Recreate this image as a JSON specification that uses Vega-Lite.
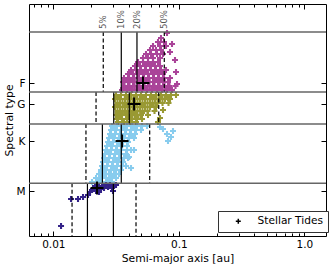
{
"$schema": "https://vega.github.io/schema/vega-lite/v6.json",
"width": 297, "height": 232,
"autosize": {"type": "none"},
"padding": {"left": 29, "top": 4, "right": 7, "bottom": 32},
"config": {
 "view": {"stroke": "black", "strokeWidth": 1},
 "font": "DejaVu Sans",
 "axis": {"labelFont": "DejaVu Sans", "titleFont": "DejaVu Sans", "labelColor": "black", "titleColor": "black", "titleFontWeight": "normal", "tickColor": "black", "domain": false, "grid": false, "labelFontSize": 10.5, "titleFontSize": 10.8}
},
"datasets": {
 "pts": [
  {"t":"F","a":0.03527,"T":6050},{"t":"F","a":0.03865,"T":6050},{"t":"F","a":0.04237,"T":6050},{"t":"F","a":0.04644,"T":6050},{"t":"F","a":0.05090,"T":6050},{"t":"F","a":0.05579,"T":6050},{"t":"F","a":0.06115,"T":6050},{"t":"F","a":0.06702,"T":6050},{"t":"F","a":0.07346,"T":6050},{"t":"F","a":0.08051,"T":6050},{"t":"F","a":0.08825,"T":6050},
  {"t":"F","a":0.03692,"T":6150},{"t":"F","a":0.04046,"T":6150},{"t":"F","a":0.04436,"T":6150},{"t":"F","a":0.04862,"T":6150},{"t":"F","a":0.05329,"T":6150},{"t":"F","a":0.05841,"T":6150},{"t":"F","a":0.06402,"T":6150},{"t":"F","a":0.07016,"T":6150},{"t":"F","a":0.07690,"T":6150},{"t":"F","a":0.08429,"T":6150},{"t":"F","a":0.09410,"T":6150},
  {"t":"F","a":0.03592,"T":6250},{"t":"F","a":0.03937,"T":6250},{"t":"F","a":0.04315,"T":6250},{"t":"F","a":0.04730,"T":6250},{"t":"F","a":0.05184,"T":6250},{"t":"F","a":0.05682,"T":6250},{"t":"F","a":0.06228,"T":6250},{"t":"F","a":0.06826,"T":6250},{"t":"F","a":0.07482,"T":6250},{"t":"F","a":0.08200,"T":6250},
  {"t":"F","a":0.03658,"T":6350},{"t":"F","a":0.04010,"T":6350},{"t":"F","a":0.04395,"T":6350},{"t":"F","a":0.04817,"T":6350},{"t":"F","a":0.05280,"T":6350},{"t":"F","a":0.05787,"T":6350},{"t":"F","a":0.06343,"T":6350},{"t":"F","a":0.06952,"T":6350},{"t":"F","a":0.07620,"T":6350},{"t":"F","a":0.08507,"T":6350},
  {"t":"F","a":0.03937,"T":6450},{"t":"F","a":0.04315,"T":6450},{"t":"F","a":0.04730,"T":6450},{"t":"F","a":0.05184,"T":6450},{"t":"F","a":0.05682,"T":6450},{"t":"F","a":0.06228,"T":6450},{"t":"F","a":0.06826,"T":6450},{"t":"F","a":0.07482,"T":6450},
  {"t":"F","a":0.04160,"T":6550},{"t":"F","a":0.04559,"T":6550},{"t":"F","a":0.04997,"T":6550},{"t":"F","a":0.05477,"T":6550},{"t":"F","a":0.06003,"T":6550},{"t":"F","a":0.06580,"T":6550},{"t":"F","a":0.07212,"T":6550},{"t":"F","a":0.07905,"T":6550},
  {"t":"F","a":0.04476,"T":6650},{"t":"F","a":0.04906,"T":6650},{"t":"F","a":0.05378,"T":6650},{"t":"F","a":0.05894,"T":6650},{"t":"F","a":0.06461,"T":6650},{"t":"F","a":0.07081,"T":6650},
  {"t":"F","a":0.04730,"T":6750},{"t":"F","a":0.05184,"T":6750},{"t":"F","a":0.05682,"T":6750},{"t":"F","a":0.06228,"T":6750},{"t":"F","a":0.06826,"T":6750},
  {"t":"F","a":0.05184,"T":6850},{"t":"F","a":0.05682,"T":6850},{"t":"F","a":0.06228,"T":6850},{"t":"F","a":0.07081,"T":6850},
  {"t":"F","a":0.05477,"T":6950},{"t":"F","a":0.06003,"T":6950},{"t":"F","a":0.06702,"T":6950},{"t":"F","a":0.07482,"T":6950},
  {"t":"F","a":0.05894,"T":7050},{"t":"F","a":0.06580,"T":7050},{"t":"F","a":0.07212,"T":7050},
  {"t":"F","a":0.06228,"T":7150},{"t":"F","a":0.07081,"T":7150},{"t":"F","a":0.07905,"T":7150},
  {"t":"F","a":0.06826,"T":7250},{"t":"F","a":0.07620,"T":7250},
  {"t":"F","a":0.07212,"T":7350},{"t":"F","a":0.08051,"T":7475},
  {"t":"F","a":0.08825,"T":7200},{"t":"F","a":0.09324,"T":6800},{"t":"F","a":0.09497,"T":6500},{"t":"F","a":0.09673,"T":6200},{"t":"F","a":0.08507,"T":7000},
  {"t":"F","a":0.03600,"T":6100},{"t":"F","a":0.04150,"T":6100},{"t":"F","a":0.04750,"T":6100},{"t":"F","a":0.05450,"T":6100},{"t":"F","a":0.06250,"T":6100},{"t":"F","a":0.07150,"T":6100},{"t":"F","a":0.08200,"T":6100},
  {"t":"F","a":0.03750,"T":6300},{"t":"F","a":0.04300,"T":6300},{"t":"F","a":0.04950,"T":6300},{"t":"F","a":0.05650,"T":6300},{"t":"F","a":0.06500,"T":6300},{"t":"F","a":0.07450,"T":6300},
  {"t":"F","a":0.04150,"T":6500},{"t":"F","a":0.04800,"T":6500},{"t":"F","a":0.05500,"T":6500},{"t":"F","a":0.06300,"T":6500},{"t":"F","a":0.07200,"T":6500},
  {"t":"F","a":0.04700,"T":6700},{"t":"F","a":0.05400,"T":6700},{"t":"F","a":0.06100,"T":6700},
  {"t":"G","a":0.03159,"T":5925},{"t":"G","a":0.03462,"T":5925},{"t":"G","a":0.03795,"T":5925},{"t":"G","a":0.04160,"T":5925},{"t":"G","a":0.04559,"T":5925},{"t":"G","a":0.04997,"T":5925},{"t":"G","a":0.05477,"T":5925},{"t":"G","a":0.06003,"T":5925},{"t":"G","a":0.06580,"T":5925},{"t":"G","a":0.07212,"T":5925},{"t":"G","a":0.07905,"T":5925},{"t":"G","a":0.08664,"T":5925},{"t":"G","a":0.09497,"T":5925},
  {"t":"G","a":0.03102,"T":5825},{"t":"G","a":0.03400,"T":5825},{"t":"G","a":0.03726,"T":5825},{"t":"G","a":0.04084,"T":5825},{"t":"G","a":0.04476,"T":5825},{"t":"G","a":0.04906,"T":5825},{"t":"G","a":0.05378,"T":5825},{"t":"G","a":0.05894,"T":5825},{"t":"G","a":0.06461,"T":5825},{"t":"G","a":0.07081,"T":5825},{"t":"G","a":0.07761,"T":5825},{"t":"G","a":0.08507,"T":5825},
  {"t":"G","a":0.03247,"T":5725},{"t":"G","a":0.03559,"T":5725},{"t":"G","a":0.03901,"T":5725},{"t":"G","a":0.04276,"T":5725},{"t":"G","a":0.04686,"T":5725},{"t":"G","a":0.05136,"T":5725},{"t":"G","a":0.05630,"T":5725},{"t":"G","a":0.06171,"T":5725},{"t":"G","a":0.06764,"T":5725},{"t":"G","a":0.07413,"T":5725},{"t":"G","a":0.08276,"T":5725},
  {"t":"G","a":0.03102,"T":5625},{"t":"G","a":0.03400,"T":5625},{"t":"G","a":0.03726,"T":5625},{"t":"G","a":0.04084,"T":5625},{"t":"G","a":0.04476,"T":5625},{"t":"G","a":0.04906,"T":5625},{"t":"G","a":0.05378,"T":5625},{"t":"G","a":0.05894,"T":5625},{"t":"G","a":0.06580,"T":5625},
  {"t":"G","a":0.03247,"T":5525},{"t":"G","a":0.03559,"T":5525},{"t":"G","a":0.03901,"T":5525},{"t":"G","a":0.04276,"T":5525},{"t":"G","a":0.04686,"T":5525},{"t":"G","a":0.05136,"T":5525},{"t":"G","a":0.05630,"T":5525},{"t":"G","a":0.06402,"T":5525},
  {"t":"G","a":0.03159,"T":5425},{"t":"G","a":0.03462,"T":5425},{"t":"G","a":0.03795,"T":5425},{"t":"G","a":0.04160,"T":5425},{"t":"G","a":0.04559,"T":5425},{"t":"G","a":0.04997,"T":5425},{"t":"G","a":0.05682,"T":5425},
  {"t":"G","a":0.03218,"T":5325},{"t":"G","a":0.03527,"T":5325},{"t":"G","a":0.03865,"T":5325},{"t":"G","a":0.04237,"T":5325},{"t":"G","a":0.04644,"T":5325},{"t":"G","a":0.05090,"T":5325},
  {"t":"G","a":0.03277,"T":5250},{"t":"G","a":0.03658,"T":5250},{"t":"G","a":0.04084,"T":5250},{"t":"G","a":0.04559,"T":5250},{"t":"G","a":0.06826,"T":5250},
  {"t":"G","a":0.07482,"T":5550},{"t":"G","a":0.07081,"T":5350},{"t":"G","a":0.08200,"T":5850},
  {"t":"G","a":0.03300,"T":5875},{"t":"G","a":0.03850,"T":5875},{"t":"G","a":0.04500,"T":5875},{"t":"G","a":0.05250,"T":5875},{"t":"G","a":0.06150,"T":5875},{"t":"G","a":0.07150,"T":5875},
  {"t":"G","a":0.03250,"T":5675},{"t":"G","a":0.03800,"T":5675},{"t":"G","a":0.04450,"T":5675},{"t":"G","a":0.05200,"T":5675},{"t":"G","a":0.06100,"T":5675},
  {"t":"G","a":0.03250,"T":5475},{"t":"G","a":0.03800,"T":5475},{"t":"G","a":0.04400,"T":5475},{"t":"G","a":0.05100,"T":5475},
  {"t":"G","a":0.03350,"T":5375},{"t":"G","a":0.03950,"T":5375},{"t":"G","a":0.04600,"T":5375},
  {"t":"K","a":0.02936,"T":5150},{"t":"K","a":0.03218,"T":5150},{"t":"K","a":0.03527,"T":5150},{"t":"K","a":0.03865,"T":5150},{"t":"K","a":0.04237,"T":5150},{"t":"K","a":0.04644,"T":5150},{"t":"K","a":0.05090,"T":5150},{"t":"K","a":0.05579,"T":5150},
  {"t":"K","a":0.02882,"T":5050},{"t":"K","a":0.03159,"T":5050},{"t":"K","a":0.03462,"T":5050},{"t":"K","a":0.03795,"T":5050},{"t":"K","a":0.04160,"T":5050},{"t":"K","a":0.04559,"T":5050},{"t":"K","a":0.04997,"T":5050},
  {"t":"K","a":0.02830,"T":4950},{"t":"K","a":0.03102,"T":4950},{"t":"K","a":0.03400,"T":4950},{"t":"K","a":0.03726,"T":4950},{"t":"K","a":0.04084,"T":4950},{"t":"K","a":0.04476,"T":4950},
  {"t":"K","a":0.02778,"T":4850},{"t":"K","a":0.03045,"T":4850},{"t":"K","a":0.03338,"T":4850},{"t":"K","a":0.03658,"T":4850},{"t":"K","a":0.04010,"T":4850},{"t":"K","a":0.04395,"T":4850},
  {"t":"K","a":0.02728,"T":4750},{"t":"K","a":0.02990,"T":4750},{"t":"K","a":0.03277,"T":4750},{"t":"K","a":0.03592,"T":4750},{"t":"K","a":0.03937,"T":4750},
  {"t":"K","a":0.02678,"T":4650},{"t":"K","a":0.02936,"T":4650},{"t":"K","a":0.03218,"T":4650},{"t":"K","a":0.03527,"T":4650},{"t":"K","a":0.03865,"T":4650},
  {"t":"K","a":0.02630,"T":4550},{"t":"K","a":0.02882,"T":4550},{"t":"K","a":0.03159,"T":4550},{"t":"K","a":0.03462,"T":4550},{"t":"K","a":0.03865,"T":4550},{"t":"K","a":0.04160,"T":4550},
  {"t":"K","a":0.02582,"T":4450},{"t":"K","a":0.02830,"T":4450},{"t":"K","a":0.03102,"T":4450},{"t":"K","a":0.03400,"T":4450},{"t":"K","a":0.03795,"T":4450},
  {"t":"K","a":0.02535,"T":4350},{"t":"K","a":0.02778,"T":4350},{"t":"K","a":0.03045,"T":4350},{"t":"K","a":0.03338,"T":4350},{"t":"K","a":0.03658,"T":4350},{"t":"K","a":0.03937,"T":4350},
  {"t":"K","a":0.02489,"T":4250},{"t":"K","a":0.02728,"T":4250},{"t":"K","a":0.02990,"T":4250},{"t":"K","a":0.03277,"T":4250},{"t":"K","a":0.03592,"T":4250},
  {"t":"K","a":0.02444,"T":4150},{"t":"K","a":0.02678,"T":4150},{"t":"K","a":0.02936,"T":4150},{"t":"K","a":0.03218,"T":4150},{"t":"K","a":0.03527,"T":4150},{"t":"K","a":0.03795,"T":4150},
  {"t":"K","a":0.02399,"T":4050},{"t":"K","a":0.02630,"T":4050},{"t":"K","a":0.02882,"T":4050},{"t":"K","a":0.03159,"T":4050},{"t":"K","a":0.03462,"T":4050},
  {"t":"K","a":0.02313,"T":3950},{"t":"K","a":0.02535,"T":3950},{"t":"K","a":0.02778,"T":3950},{"t":"K","a":0.03045,"T":3950},{"t":"K","a":0.03338,"T":3950},
  {"t":"K","a":0.02189,"T":3850},{"t":"K","a":0.02399,"T":3850},{"t":"K","a":0.02630,"T":3850},{"t":"K","a":0.02882,"T":3850},{"t":"K","a":0.03159,"T":3850},
  {"t":"K","a":0.02034,"T":3750},{"t":"K","a":0.02230,"T":3750},{"t":"K","a":0.02444,"T":3750},{"t":"K","a":0.02678,"T":3750},{"t":"K","a":0.02936,"T":3750},
  {"t":"K","a":0.07482,"T":5075},{"t":"K","a":0.08051,"T":4950},{"t":"K","a":0.08664,"T":4875},{"t":"K","a":0.08200,"T":4775},{"t":"K","a":0.08988,"T":5025},{"t":"K","a":0.07081,"T":5125},{"t":"K","a":0.04160,"T":4100},{"t":"K","a":0.04010,"T":4375},{"t":"K","a":0.04395,"T":4550},
  {"t":"K","a":0.03050,"T":5100},{"t":"K","a":0.03650,"T":5100},{"t":"K","a":0.04400,"T":5100},{"t":"K","a":0.02950,"T":4900},{"t":"K","a":0.03500,"T":4900},{"t":"K","a":0.04200,"T":4900},
  {"t":"K","a":0.02850,"T":4700},{"t":"K","a":0.03400,"T":4700},{"t":"K","a":0.02750,"T":4500},{"t":"K","a":0.03300,"T":4500},{"t":"K","a":0.02650,"T":4300},{"t":"K","a":0.03150,"T":4300},
  {"t":"K","a":0.02550,"T":4100},{"t":"K","a":0.03050,"T":4100},{"t":"K","a":0.02450,"T":3900},{"t":"K","a":0.02900,"T":3900},{"t":"K","a":0.02300,"T":3800},{"t":"K","a":0.02750,"T":3800},
  {"t":"M","a":0.01152,"T":2650},{"t":"M","a":0.01384,"T":3325},{"t":"M","a":0.01573,"T":3325},{"t":"M","a":0.01725,"T":3375},{"t":"M","a":0.01890,"T":3425},{"t":"M","a":0.01961,"T":3500},{"t":"M","a":0.02034,"T":3550},{"t":"M","a":0.02110,"T":3600},{"t":"M","a":0.02189,"T":3525},{"t":"M","a":0.02271,"T":3625},{"t":"M","a":0.02356,"T":3575},{"t":"M","a":0.02444,"T":3650},{"t":"M","a":0.02535,"T":3600},{"t":"M","a":0.02630,"T":3675},{"t":"M","a":0.02728,"T":3625},{"t":"M","a":0.02830,"T":3675},{"t":"M","a":0.02936,"T":3600},{"t":"M","a":0.03045,"T":3650},{"t":"M","a":0.03159,"T":3675},{"t":"M","a":0.02990,"T":3525},{"t":"M","a":0.02149,"T":3650},{"t":"M","a":0.02313,"T":3500},{"t":"M","a":0.02230,"T":3675},{"t":"M","a":0.02071,"T":3575},{"t":"M","a":0.02399,"T":3600},{"t":"M","a":0.02582,"T":3650}
 ],
 "rules": [
  {"r":"F","p":"5%","a":0.0250,"T1":7500,"T2":6000,"s":"dash"},
  {"r":"F","p":"10%","a":0.0348,"T1":7500,"T2":6000,"s":"solid"},
  {"r":"F","p":"20%","a":0.0464,"T1":7500,"T2":6000,"s":"solid"},
  {"r":"F","p":"50%","a":0.0766,"T1":7500,"T2":6000,"s":"dash"},
  {"r":"G","p":"5%","a":0.0219,"T1":6000,"T2":5200,"s":"dash"},
  {"r":"G","p":"10%","a":0.0303,"T1":6000,"T2":5200,"s":"solid"},
  {"r":"G","p":"20%","a":0.0403,"T1":6000,"T2":5200,"s":"solid"},
  {"r":"G","p":"50%","a":0.0692,"T1":6000,"T2":5200,"s":"dash"},
  {"r":"K","p":"5%","a":0.0182,"T1":5200,"T2":3720,"s":"dash"},
  {"r":"K","p":"10%","a":0.0246,"T1":5200,"T2":3720,"s":"solid"},
  {"r":"K","p":"20%","a":0.0348,"T1":5200,"T2":3720,"s":"solid"},
  {"r":"K","p":"50%","a":0.0586,"T1":5200,"T2":3720,"s":"dash"},
  {"r":"M","p":"5%","a":0.0141,"T1":3720,"T2":2400,"s":"dash"},
  {"r":"M","p":"10%","a":0.0187,"T1":3720,"T2":2400,"s":"solid"},
  {"r":"M","p":"20%","a":0.0301,"T1":3720,"T2":2400,"s":"solid"},
  {"r":"M","p":"50%","a":0.0456,"T1":3720,"T2":2400,"s":"dash"}
 ],
 "hl": [{"T":7500},{"T":6000},{"T":5200},{"T":3720}],
 "lab": [{"p":"5%","a":0.0250,"T":7575},{"p":"10%","a":0.0348,"T":7575},{"p":"20%","a":0.0464,"T":7575},{"p":"50%","a":0.0766,"T":7575}],
 "med": [{"series":"Stellar Tides","t":"F","a":0.0518,"T":6225},{"series":"Stellar Tides","t":"G","a":0.0440,"T":5700},{"series":"Stellar Tides","t":"K","a":0.0353,"T":4775},{"series":"Stellar Tides","t":"M","a":0.0223,"T":3600}]
},
"layer": [
 {"data": {"name": "pts"},
  "mark": {"type": "point", "shape": "M-1,0L1,0M0,-1L0,1", "filled": false, "size": 36, "strokeWidth": 2.1, "opacity": 1},
  "encoding": {
   "x": {"field": "a", "type": "quantitative", "scale": {"type": "log", "domain": [0.0064, 1.489], "nice": false},
         "axis": {"orient": "bottom", "values": [0.01, 0.1, 1], "labelExpr": "datum.value >= 1 ? '1.0' : (datum.value >= 0.1 ? '0.1' : '0.01')", "tickSize": -5, "labelPadding": 8, "title": "Semi-major axis [au]", "titlePadding": 3}},
   "y": {"field": "T", "type": "quantitative", "scale": {"domain": [2400, 8200], "nice": false, "zero": false},
         "axis": {"orient": "left", "values": [6225, 5700, 4775, 3525], "labelExpr": "datum.value == 6225 ? 'F' : (datum.value == 5700 ? 'G' : (datum.value == 4775 ? 'K' : 'M'))", "tickSize": -5, "labelPadding": 9, "title": "Spectral type", "titlePadding": 1}},
   "color": {"field": "t", "type": "nominal", "scale": {"domain": ["F", "G", "K", "M"], "range": ["#AA4499", "#999933", "#88CCEE", "#332288"]}, "legend": null}
  }},
 {"data": {"name": "rules"},
  "mark": {"type": "rule", "color": "black", "strokeWidth": 1.2},
  "encoding": {
   "x": {"field": "a", "type": "quantitative", "scale": {"type": "log", "domain": [0.0064, 1.489], "nice": false},
         "axis": {"orient": "bottom", "values": [0.007, 0.008, 0.009, 0.02, 0.03, 0.04, 0.05, 0.06, 0.07, 0.08, 0.09, 0.2, 0.3, 0.4, 0.5, 0.6, 0.7, 0.8, 0.9], "labels": false, "title": null, "tickSize": -3}},
   "y": {"field": "T1", "type": "quantitative", "scale": {"domain": [2400, 8200], "nice": false, "zero": false},
         "axis": {"orient": "right", "values": [6225, 5700, 4775, 3525], "labels": false, "title": null, "tickSize": -5}},
   "y2": {"field": "T2"},
   "strokeDash": {"field": "s", "type": "nominal", "scale": {"domain": ["solid", "dash"], "range": [[1, 0], [4, 2.5]]}, "legend": null}
  }},
 {"data": {"name": "hl"},
  "mark": {"type": "rule", "color": "#666666", "strokeWidth": 1.5},
  "encoding": {
   "y": {"field": "T", "type": "quantitative", "scale": {"domain": [2400, 8200], "nice": false, "zero": false}, "axis": null}
  }},
 {"data": {"name": "lab"},
  "mark": {"type": "text", "angle": 270, "align": "left", "baseline": "middle", "fontSize": 8.5, "color": "#555555", "font": "DejaVu Sans"},
  "encoding": {
   "x": {"field": "a", "type": "quantitative", "scale": {"type": "log", "domain": [0.0064, 1.489], "nice": false},
         "axis": {"orient": "top", "values": [0.01, 0.1, 1], "labels": false, "title": null, "tickSize": -5}},
   "y": {"field": "T", "type": "quantitative", "scale": {"domain": [2400, 8200], "nice": false, "zero": false}, "axis": null},
   "text": {"field": "p"}
  }},
 {"data": {"name": "med"},
  "mark": {"type": "point", "filled": false, "size": 169, "strokeWidth": 2, "color": "black", "opacity": 1},
  "encoding": {
   "x": {"field": "a", "type": "quantitative", "scale": {"type": "log", "domain": [0.0064, 1.489], "nice": false},
         "axis": {"orient": "top", "values": [0.007, 0.008, 0.009, 0.02, 0.03, 0.04, 0.05, 0.06, 0.07, 0.08, 0.09, 0.2, 0.3, 0.4, 0.5, 0.6, 0.7, 0.8, 0.9], "labels": false, "title": null, "tickSize": -3}},
   "y": {"field": "T", "type": "quantitative", "scale": {"domain": [2400, 8200], "nice": false, "zero": false}, "axis": null},
   "shape": {"field": "series", "type": "nominal", "scale": {"domain": ["Stellar Tides"], "range": ["M-1,0L1,0M0,-1L0,1"]},
             "legend": {"title": null, "orient": "none", "legendX": 189, "legendY": 207, "padding": 5, "symbolOffset": 10, "labelOffset": 14, "symbolSize": 25, "symbolStrokeWidth": 1.5, "symbolStrokeColor": "black", "symbolFillColor": "transparent", "labelFontSize": 10.6, "labelFont": "DejaVu Sans", "labelColor": "black", "fillColor": "white", "strokeColor": "#333333", "cornerRadius": 0}}
  }}
],
"resolve": {"axis": {"x": "independent", "y": "independent"}}
}
